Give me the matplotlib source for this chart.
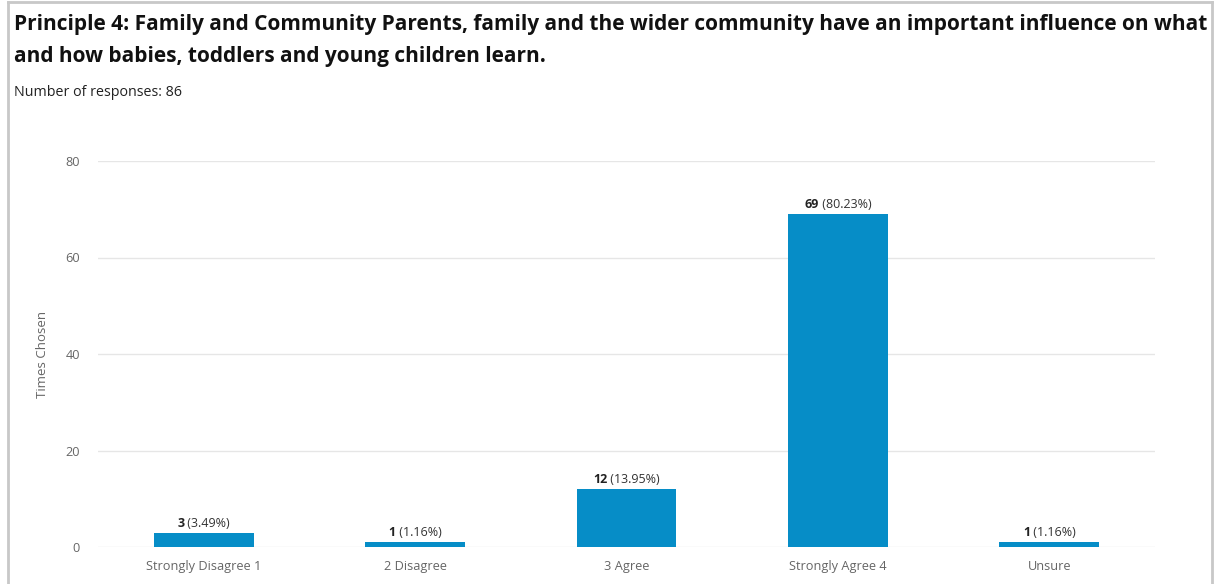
import matplotlib
matplotlib.use("Agg")
import matplotlib.pyplot as plt
from matplotlib.transforms import offset_copy
from matplotlib.lines import Line2D

categories = ["Strongly Disagree 1", "2 Disagree", "3 Agree", "Strongly Agree 4", "Unsure"]
counts = [3, 1, 12, 69, 1]
percents = [3.49, 1.16, 13.95, 80.23, 1.16]
yticks = [0, 20, 40, 60, 80]

title = ("Principle 4: Family and Community Parents, family and the wider community have an important influence on what\n"
         "and how babies, toddlers and young children learn.")
subtitle = "Number of responses: 86"

plt.rcParams['font.family'] = ['Open Sans', 'DejaVu Sans']

fig = plt.figure(figsize=(12.14, 5.84), dpi=100)
ax = fig.add_axes([98 / 1214, 1 - 547 / 584, (1155 - 98) / 1214, (547 - 161) / 584])

bar_color = '#068dc7'
x = list(range(len(categories)))
ax.bar(x, counts, width=0.473, color=bar_color, zorder=3)

ax.set_xlim(-0.5, len(categories) - 0.5)
ax.set_ylim(0, 80)
ax.set_yticks(yticks)
ax.set_xticks(x)
ax.set_xticklabels(categories)
ax.grid(axis='y', color='#e6e6e6', linewidth=1, zorder=0)
ax.set_axisbelow(True)
for s in ax.spines.values():
    s.set_visible(False)
ax.tick_params(length=0, colors='#666666', labelsize=9.2)
ax.tick_params(axis='y', pad=13)
ax.tick_params(axis='x', pad=9.5)
ax.set_ylabel("Times Chosen", color='#666666', fontsize=9.5)
ax.yaxis.set_label_coords((49 - 98) / 1057, 0.5)

# value labels: bold count + normal percentage, centred together over the bar
r = fig.canvas.get_renderer()
for xi, c, p in zip(x, counts, percents):
    t1 = ax.text(xi, c, f"{c}", fontweight='bold', fontsize=9, color='#222222', ha='left', va='bottom')
    t2 = ax.text(xi, c, f" ({p:.2f}%)", fontsize=9, color='#333333', ha='left', va='bottom')
    w1 = t1.get_window_extent(r).width
    w2 = t2.get_window_extent(r).width
    start = -(w1 + w2) / 2
    t1.set_transform(offset_copy(ax.transData, fig=fig, x=start, y=3, units='dots'))
    t2.set_transform(offset_copy(ax.transData, fig=fig, x=start + w1, y=3, units='dots'))

fig.text(14 / 1214, 1 - 14 / 584, title, fontsize=15, fontweight='bold', color='#111111',
         ha='left', va='top', linespacing=1.7)
fig.text(14 / 1214, 1 - 93 / 584, subtitle, fontsize=10.3, color='#222222', ha='left', va='center')

# panel border
border = '#c8c8c8'
fig.add_artist(Line2D([7.5 / 1214, 7.5 / 1214], [0, 1 - 2 / 584], transform=fig.transFigure, color=border, lw=2))
fig.add_artist(Line2D([1211.5 / 1214, 1211.5 / 1214], [0, 1 - 2 / 584], transform=fig.transFigure, color=border, lw=2))
fig.add_artist(Line2D([7.5 / 1214, 1211.5 / 1214], [1 - 2 / 584, 1 - 2 / 584], transform=fig.transFigure, color=border, lw=2))

fig.savefig("out.png", dpi=100)
